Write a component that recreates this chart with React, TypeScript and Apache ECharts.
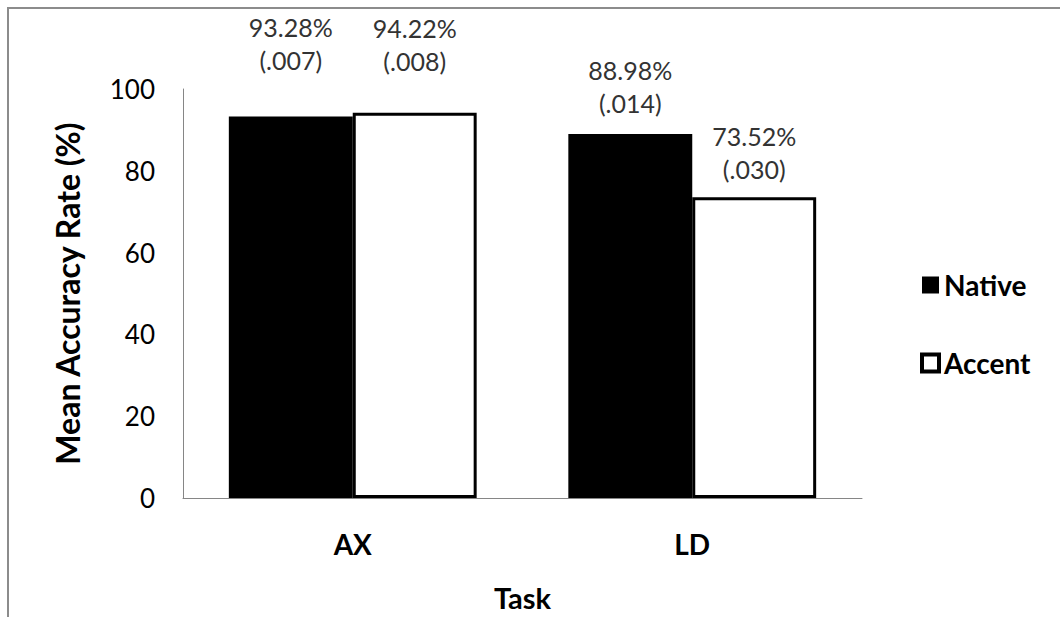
import React, { useEffect, useRef } from "react";
import * as echarts from "echarts";

const categories = ["AX", "LD"];
const seriesNames = ["Native", "Accent"];
const nativeValues = [93.28, 88.98];
const nativeSE = [".007", ".014"];
const accentValues = [94.22, 73.52];
const accentSE = [".008", ".030"];
const yTicks = [0, 20, 40, 60, 80, 100];

const FONT = "Lato";

export default function App() {
  const ref = useRef<HTMLDivElement>(null);
  useEffect(() => {
    if (!ref.current) return;
    const chart = echarts.init(ref.current, null, { renderer: "svg" });
    const labelBase = {
      show: true,
      position: "top",
      fontFamily: FONT,
      fontSize: 25,
      lineHeight: 33,
      color: "#333",
      align: "center",
    };
    const nativeDist = [40, 15];
    const accentDist = [35, 12];
    const mk = (vals: number[], ses: string[], dists: number[]) =>
      vals.map((v, i) => ({
        value: v,
        label: {
          ...labelBase,
          distance: dists[i],
          formatter: () => `${v.toFixed(2)}%\n(${ses[i]})`,
        },
      }));
    const option: any = {
      animation: false,
      backgroundColor: "#fff",
      graphic: [
        {
          type: "rect",
          shape: { x: 8, y: 8, width: 1200, height: 800 },
          style: { fill: "none", stroke: "#8c8c8c", lineWidth: 2 },
          silent: true,
          z: 0,
        },
      ],
      grid: { left: 183, right: 198, top: 89, bottom: 115, containLabel: false },
      legend: {
        orient: "vertical",
        left: 915,
        top: 266,
        itemGap: 50,
        itemWidth: 17,
        itemHeight: 17,
        icon: "rect",
        textStyle: {
          fontFamily: FONT,
          fontSize: 28,
          fontWeight: "bold",
          color: "#000",
        },
        data: [
          { name: seriesNames[0], itemStyle: { color: "#000" } },
          {
            name: seriesNames[1],
            itemStyle: { color: "#fff", borderColor: "#000", borderWidth: 4 },
          },
        ],
      },
      xAxis: {
        type: "category",
        data: categories,
        axisLine: { lineStyle: { color: "#868686", width: 1 } },
        axisTick: { show: false },
        axisLabel: {
          fontFamily: FONT,
          fontSize: 28,
          fontWeight: "bold",
          color: "#000",
          margin: 32,
        },
        name: "Task",
        nameLocation: "middle",
        nameGap: 85,
        nameTextStyle: { fontFamily: FONT, fontSize: 29, fontWeight: "bold", color: "#000" },
      },
      yAxis: {
        type: "value",
        min: yTicks[0],
        max: yTicks[yTicks.length - 1],
        interval: 20,
        splitLine: { show: false },
        axisLine: { show: true, lineStyle: { color: "#868686", width: 1 } },
        axisTick: { show: false },
        axisLabel: { fontFamily: FONT, fontSize: 26, color: "#000", margin: 28 },
        name: "Mean Accuracy Rate (%)",
        nameLocation: "middle",
        nameGap: 100,
        nameTextStyle: { fontFamily: FONT, fontSize: 32, fontWeight: "bold", color: "#000" },
      },
      series: [
        {
          name: seriesNames[0],
          type: "bar",
          barGap: "0%",
          barCategoryGap: "27%",
          itemStyle: { color: "#000" },
          data: mk(nativeValues, nativeSE, nativeDist),
        },
        {
          name: seriesNames[1],
          type: "bar",
          itemStyle: { color: "#fff", borderColor: "#000", borderWidth: 3 },
          data: mk(accentValues, accentSE, accentDist),
        },
      ],
    };
    chart.setOption(option);
    return () => chart.dispose();
  }, []);
  return (
    <div
      ref={ref}
      style={{ position: "absolute", left: 0, top: 0, width: 1060, height: 617 }}
    />
  );
}
